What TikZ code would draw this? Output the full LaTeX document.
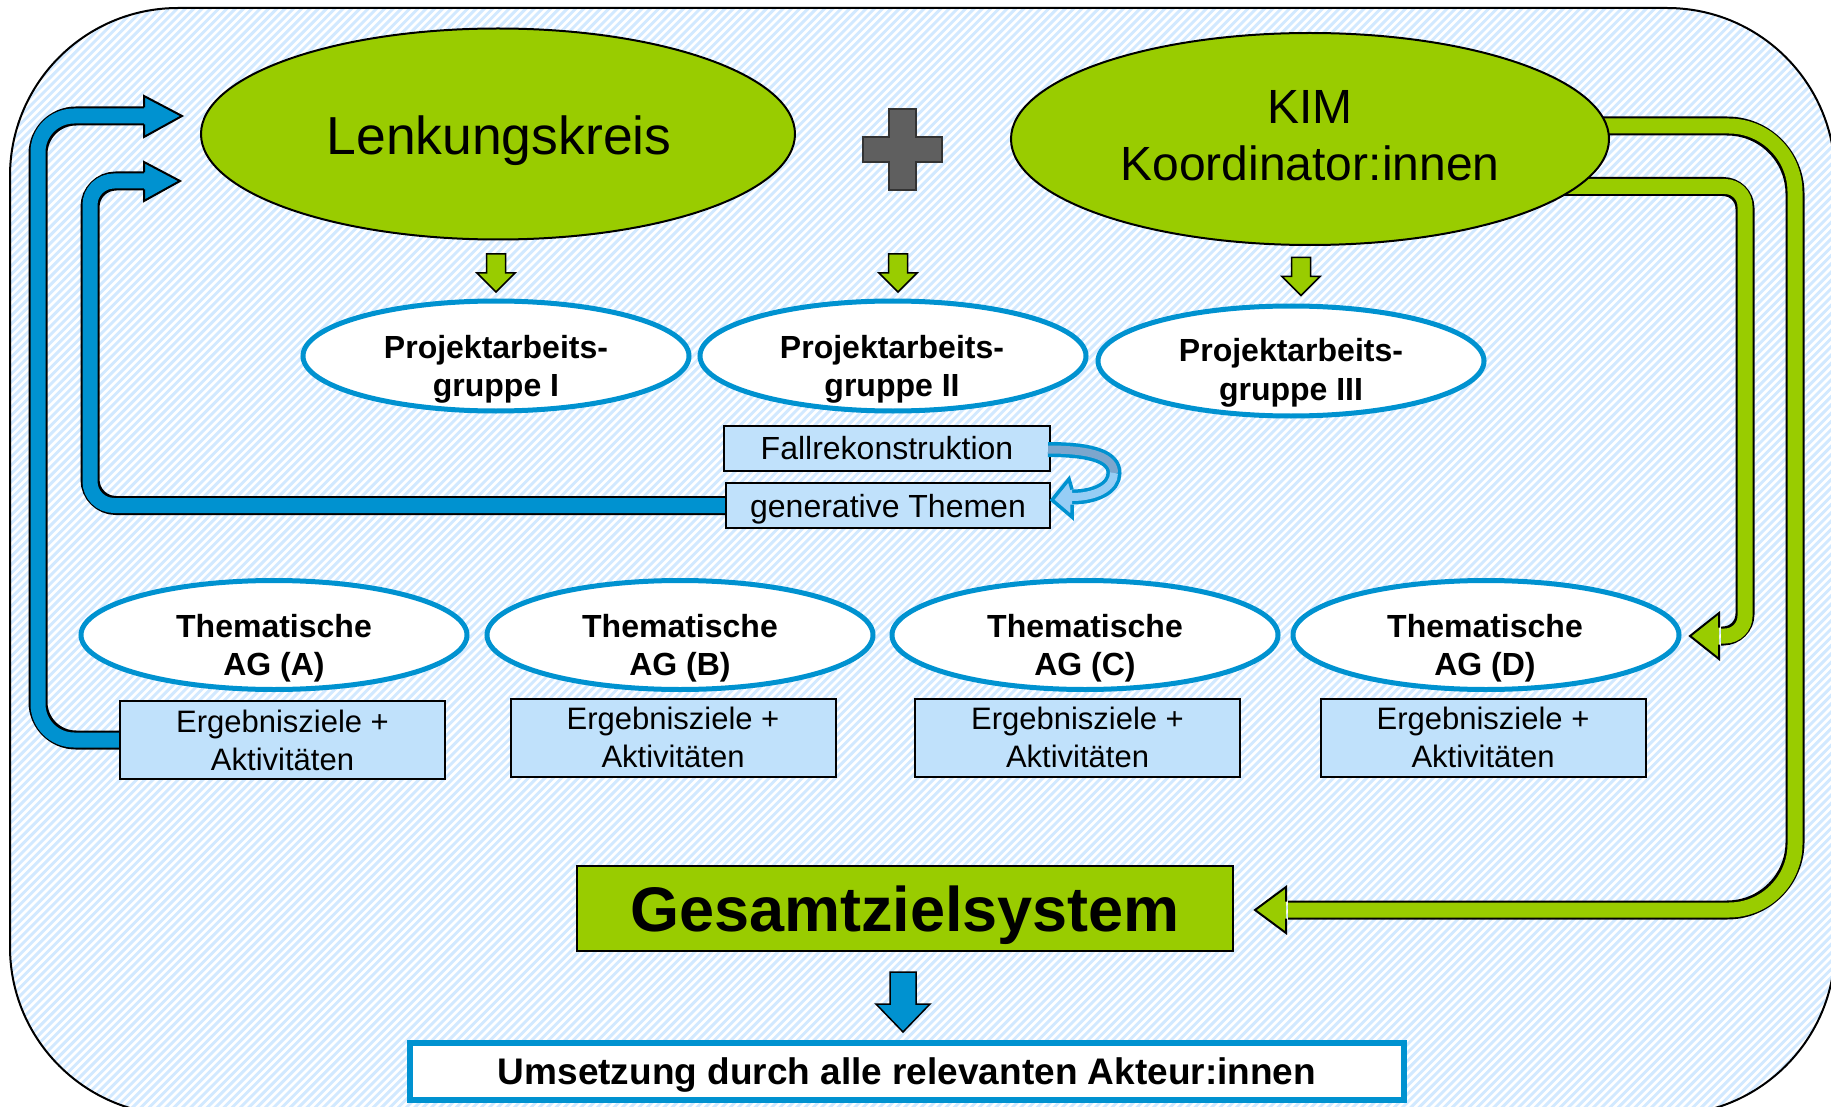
\documentclass[tikz,border=0pt]{standalone}
\usepackage{fontspec}
\setmainfont{Liberation Sans}
\usetikzlibrary{shapes.geometric,calc}
\definecolor{kgreen}{RGB}{153,204,0}
\definecolor{kblue}{RGB}{0,146,208}
\definecolor{klight}{RGB}{192,225,251}
\definecolor{kstripe}{RGB}{210,233,255}
\definecolor{kgray}{RGB}{95,95,95}
\definecolor{kcurvA}{RGB}{124,166,205}
\definecolor{kcurvB}{RGB}{150,205,245}
\pgfdeclarelayer{backdrop}
\pgfdeclarelayer{arrows}
\pgfsetlayers{backdrop,arrows,main}
\tikzset{
  greenell/.style={ellipse, draw=black, line width=2, fill=kgreen, inner sep=0},
  blueell/.style={ellipse, draw=kblue, line width=5, fill=white, inner sep=0, minimum width=386, minimum height=109},
  lbox/.style={rectangle, draw=black, line width=2, fill=klight, inner sep=0, align=center},
  ergbox/.style={lbox, minimum width=325, minimum height=78, font=\fontsize{31}{38}\selectfont},
  smalltxt/.style={align=center, font=\fontsize{32}{38.5}\selectfont\bfseries},
  thtxt/.style={align=center, font=\fontsize{32}{37.5}\selectfont\bfseries},
  outl/.style={draw=black, line width=19, line cap=butt},
  bluein/.style={draw=kblue, line width=15, line cap=butt},
  greenin/.style={draw=kgreen, line width=15, line cap=butt},
  bhead/.style={fill=kblue, draw=black, line width=2, line join=miter},
  ghead/.style={fill=kgreen, draw=black, line width=2, line join=miter},
  blockdown/.style={draw=black, line width=1.5, line join=miter},
}
\begin{document}
\begin{tikzpicture}[x=1pt,y=-1pt]
\useasboundingbox (0,0) rectangle (1831,1107);
% background panel
\begin{pgfonlayer}{backdrop}
\begin{scope}
  \clip[rounded corners=168] (10,8) rectangle (1835,1115);
  \fill[white] (0,0) rectangle (1840,1120);
  \foreach \i in {0,...,360} {
    \draw[kstripe, line width=2.9] ({-1130+\i*8.3},1125) -- ++(1130,-1130);
  }
\end{scope}
\draw[line width=2, rounded corners=168] (10,8) rectangle (1835,1115);
\end{pgfonlayer}

% nodes
\node[greenell, minimum width=594, minimum height=211] (lk) at (498,134) {};
\node[greenell, minimum width=598, minimum height=212] (kim) at (1310,139) {};
\node[blueell, minimum height=110] (pag1) at (496,356) {};
\node[blueell, minimum height=110] (pag2) at (893,356) {};
\node[blueell, minimum height=110] (pag3) at (1291,361) {};
\node[lbox, minimum width=326, minimum height=45, font=\fontsize{32}{38}\selectfont] (fall) at (887,448.5) {Fallrekonstruktion};
\node[lbox, minimum width=324, minimum height=45, text depth=0pt, font=\fontsize{32}{38}\selectfont] (gen) at (888,505.5) {generative Themen};
\node[blueell] (thA) at (274,635) {};
\node[blueell] (thB) at (680,635) {};
\node[blueell] (thC) at (1085,635) {};
\node[blueell] (thD) at (1486,635) {};
\node[ergbox] (ergA) at (282.5,740) {Ergebnisziele +\\Aktivitäten};
\node[ergbox] (ergB) at (673,737.5) {Ergebnisziele +\\Aktivitäten};
\node[ergbox] (ergC) at (1077.5,737.5) {Ergebnisziele +\\Aktivitäten};
\node[ergbox] (ergD) at (1483,737.5) {Ergebnisziele +\\Aktivitäten};
\node[rectangle, draw=black, line width=2, fill=kgreen, minimum width=656, minimum height=85, inner sep=0, text depth=0pt, font=\fontsize{63}{70}\selectfont\bfseries] (ges) at (905,908.5) {Gesamtzielsystem};
\node[rectangle, draw=kblue, line width=6, fill=white, minimum width=994, minimum height=57, inner sep=0, text depth=0pt, font=\fontsize{37}{42}\selectfont\bfseries] (ums) at (907,1071.5) {Umsetzung durch alle relevanten Akteur:innen};

% texts
\node[anchor=base, font=\fontsize{53.5}{60}\selectfont] (lkT) at (499,155) {Lenkungskreis};
\node[align=center, font=\fontsize{48}{57}\selectfont] (kimT) at (1310,135.3) {KIM\\Koordinator:innen};
\node[smalltxt] (pag1T) at (496,369.5) {Projektarbeits-\\gruppe I};
\node[smalltxt] (pag2T) at (892,369.5) {Projektarbeits-\\gruppe II};
\node[smalltxt] (pag3T) at (1291,373) {Projektarbeits-\\gruppe III};
\node[thtxt] (thAT) at (274,648) {Thematische\\AG (A)};
\node[thtxt] (thBT) at (680,648) {Thematische\\AG (B)};
\node[thtxt] (thCT) at (1085,648) {Thematische\\AG (C)};
\node[thtxt] (thDT) at (1485,648) {Thematische\\AG (D)};

% feedback and flow arrows (behind the nodes)
\begin{pgfonlayer}{arrows}
\coordinate (bo1) at (38,116);
\coordinate (bo2) at (146,116);
\coordinate (bi1) at (90,181);
\coordinate (bi2) at (146,181);
\path[outl, rounded corners=38] ([xshift=6pt]ergA.west) -- (ergA.west -| bo1) -- (bo1) -- (bo2);
\path[bluein, rounded corners=36] ([xshift=6pt]ergA.west) -- (ergA.west -| bo1) -- (bo1) -- (bo2);
\filldraw[bhead] (144,107.5) -- (144,96) -- (182,116) -- (144,137) -- (144,124.5);
\path[outl, rounded corners=26] ([xshift=6pt]gen.west) -- (gen.west -| bi1) -- (bi1) -- (bi2);
\path[bluein, rounded corners=24] ([xshift=6pt]gen.west) -- (gen.west -| bi1) -- (bi1) -- (bi2);
\filldraw[bhead] (144,172.5) -- (144,162) -- (180,181) -- (144,201) -- (144,189.5);

\coordinate (go0) at ([xshift=250pt,yshift=13pt]kim.center);
\coordinate (go1) at (1795,126);
\coordinate (go2) at (1288,910);
\path[outl, rounded corners=68] (go0) -- (go1) -- (go1 |- go2) -- (go2);
\path[greenin, rounded corners=66] (go0) -- (go1) -- (go1 |- go2) -- (go2);
\filldraw[ghead] (1286,901.5) -- (1286,887) -- (1255,910) -- (1286,933) -- (1286,918.5);
\coordinate (gi0) at ([xshift=190pt,yshift=-47.5pt]kim.center);
\coordinate (gi1) at (1745,186.5);
\coordinate (gi2) at (1721,636);
\path[outl, rounded corners=22] (gi0) -- (gi1) -- (gi1 |- gi2) -- (gi2);
\path[greenin, rounded corners=20] (gi0) -- (gi1) -- (gi1 |- gi2) -- (gi2);
\filldraw[ghead] (1719,627.5) -- (1719,613) -- (1690,636) -- (1719,659) -- (1719,644.5);
\end{pgfonlayer}

% curved arrow Fallrekonstruktion -> generative Themen
\coordinate (cs) at ([xshift=-3pt,yshift=-1pt]fall.east);
\coordinate (cm) at (1114,473);
\coordinate (ce) at (1072,497);
\draw[kblue, line width=15] (cs) .. controls (1095,449.5) and (1114,458) .. (cm) .. controls (1114,488) and (1095,497) .. (ce);
\draw[kcurvA, line width=8] (cs) .. controls (1095,449.5) and (1114,458) .. (cm);
\draw[kcurvB, line width=8] (cm) .. controls (1114,488) and (1095,497) .. (ce);
\filldraw[fill=kcurvB, draw=kblue, line width=3.5, line join=miter] (1072,489.5) -- (1069,479) -- (1052,500) -- (1072,517) -- (1072,504.5);

% plus sign
\filldraw[fill=kgray, draw=black!80, line width=2] (889,109) -- (916,109) -- (916,137) -- (942,137) -- (942,162) -- (916,162) -- (916,190) -- (889,190) -- (889,162) -- (863,162) -- (863,137) -- (889,137) -- cycle;

% small green down arrows
\foreach \px/\py in {496/254, 898/254, 1301/257.5} {
  \filldraw[blockdown, fill=kgreen, shift={(\px,\py)}]
    (-9.5,0) -- (9.5,0) -- (9.5,19) -- (19,19) -- (0,38) -- (-19,19) -- (-9.5,19) -- cycle;
}

% blue down arrow
\filldraw[blockdown, fill=kblue, shift={(903,972)}]
  (-13,0) -- (13,0) -- (13,32) -- (27,32) -- (0,60) -- (-27,32) -- (-13,32) -- cycle;
\end{tikzpicture}
\end{document}
